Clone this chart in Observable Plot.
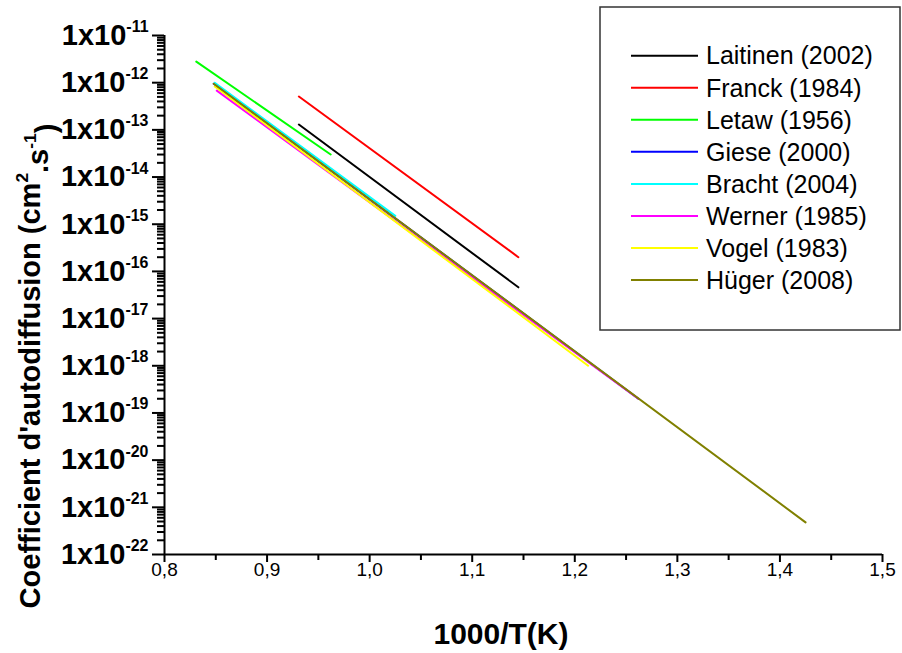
<!DOCTYPE html>
<html><head><meta charset="utf-8">
<script src="https://cdn.jsdelivr.net/npm/d3@7"></script>
<script src="https://cdn.jsdelivr.net/npm/@observablehq/plot@0.6"></script>
<style>
body{margin:0;background:#fff;}
#chart{position:relative;width:902px;height:653px;font-family:"Liberation Sans",Arial,sans-serif;}
#chart svg{font-family:"Liberation Sans",Arial,sans-serif;}
</style></head><body><div id="chart"></div>
<script>
const series = ["Laitinen (2002)","Franck (1984)","Letaw (1956)","Giese (2000)","Bracht (2004)","Werner (1985)","Vogel (1983)","Hüger (2008)"];
const colors = ["#000000","#ff0000","#00ff00","#0000ff","#00ffff","#ff00ff","#ffff00","#808000"];
const xStart = [0.931, 0.931, 0.831, 0.848, 0.849, 0.851, 0.849, 0.848];
const dStart = [1.3e-13, 5.1e-13, 2.8e-12, 9.5e-13, 1.0e-12, 6.8e-13, 8.3e-13, 9.5e-13];
const xEnd = [1.145, 1.145, 0.962, 1.262, 1.025, 1.262, 1.213, 1.425];
const dEnd = [4.6e-17, 2.0e-16, 3.0e-14, 2.0e-19, 1.5e-15, 2.0e-19, 1.0e-18, 4.8e-22];
const xTicks = [0.8, 0.9, 1.0, 1.1, 1.2, 1.3, 1.4, 1.5];
const xMinorTicks = [0.85, 0.95, 1.05, 1.15, 1.25, 1.35, 1.45];
const yExponents = [-22, -21, -20, -19, -18, -17, -16, -15, -14, -13, -12, -11];
const yMinorMult = [2, 3, 4, 5, 6, 7, 8, 9];
const xTitle = "1000/T(K)";

const rows = [];
series.forEach((s, i) => {
  rows.push({series: s, x: xStart[i], d: dStart[i]});
  rows.push({series: s, x: xEnd[i], d: dEnd[i]});
});
const yMajor = yExponents.map(e => Math.pow(10, e));
const yMinor = [];
yExponents.slice(0, -1).forEach(e => yMinorMult.forEach(m => yMinor.push(m * Math.pow(10, e))));
const fmtX = v => d3.format(".1f")(v).replace(".", ",");

const plot = Plot.plot({
  width: 902, height: 653,
  marginLeft: 164, marginRight: 20, marginTop: 35, marginBottom: 99,
  x: {domain: [0.8, 1.5]},
  y: {type: "log", domain: [1e-22, 1e-11]},
  color: {domain: series, range: colors},
  marks: [
    Plot.axisX({ticks: xTicks, tickFormat: fmtX, tickSize: 8, tickPadding: 0, fontSize: 19, label: null}),
    Plot.axisX({ticks: xMinorTicks, tickFormat: () => "", tickSize: 6, label: null}),
    Plot.axisY({ticks: yMajor, tickFormat: v => "1x10|" + Math.round(Math.log10(v)), tickSize: 12, tickPadding: 4, fontSize: 29, label: null}),
    Plot.axisY({ticks: yMinor, tickFormat: () => "", tickSize: 7, label: null}),
    Plot.ruleX([0.8], {strokeWidth: 2}),
    Plot.ruleY([1e-22], {strokeWidth: 2}),
    Plot.line(rows, {x: "x", y: "d", z: "series", stroke: "series", strokeWidth: 2})
  ]
});

const svg = d3.select(plot);
svg.selectAll('g[aria-label="y-axis tick label"] text').each(function() {
  const t = d3.select(this);
  const parts = t.text().split("|");
  t.text(null).attr("font-weight", "bold");
  t.append("tspan").text(parts[0]);
  t.append("tspan").attr("dy", "-0.8em").attr("font-size", "0.55em").text(parts[1]);
});
svg.selectAll('g[aria-label="y-axis tick"] path, g[aria-label="x-axis tick"] path').attr("stroke-width", 2);

// axis titles
svg.append("text").attr("x", 501).attr("y", 644).attr("text-anchor", "middle")
  .attr("font-size", 30).attr("font-weight", "bold").text(xTitle);
const yt = svg.append("text").attr("transform", "translate(40,366) rotate(-90)").attr("text-anchor", "middle")
  .attr("font-size", 29).attr("font-weight", "bold");
yt.append("tspan").text("Coefficient d'autodiffusion (cm");
yt.append("tspan").attr("dy", "-0.7em").attr("font-size", "0.6em").text("2");
yt.append("tspan").attr("dy", "0.7em").text(".s");
yt.append("tspan").attr("dy", "-0.7em").attr("font-size", "0.6em").text("-1");
yt.append("tspan").attr("dy", "0.7em").text(")");

// legend
const lg = svg.append("g");
lg.append("rect").attr("x", 600).attr("y", 7).attr("width", 300).attr("height", 323)
  .attr("fill", "white").attr("stroke", "#333").attr("stroke-width", 1.5);
series.forEach((s, i) => {
  const yy = 55.7 + 32.05 * i;
  lg.append("line").attr("x1", 631).attr("x2", 698).attr("y1", yy).attr("y2", yy)
    .attr("stroke", colors[i]).attr("stroke-width", 2);
  lg.append("text").attr("x", 706).attr("y", yy).attr("dy", "0.35em").attr("text-anchor", "start")
    .attr("font-size", 25).attr("fill", "black").text(s);
});

document.getElementById("chart").appendChild(plot);
</script></body></html>
